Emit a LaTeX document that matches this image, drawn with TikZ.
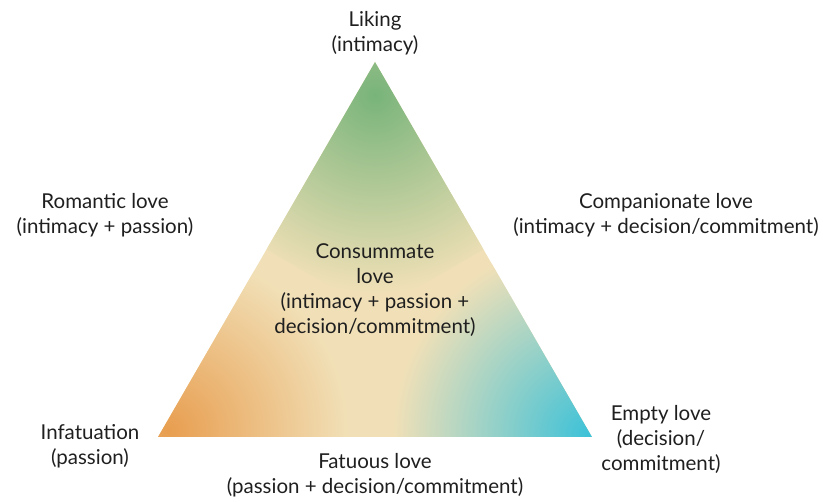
\documentclass[tikz,border=0pt]{standalone}
\usepackage{fontspec}
\setmainfont{Lato}
\usepackage{xcolor}
\usepackage{tikz}
\usetikzlibrary{calc}

\definecolor{likegreen}{RGB}{120,180,122}
\definecolor{passorange}{RGB}{232,158,80}
\definecolor{commitcyan}{RGB}{62,194,216}
\definecolor{corebeige}{RGB}{241,224,183}

\tikzset{lovelabel/.style={align=center, inner sep=0pt, text=black!88,
    font=\fontsize{20.5}{25}\selectfont}}

\begin{document}
\begin{tikzpicture}[x=1pt, y=-1pt]
    \useasboundingbox (0,0) rectangle (823,502);

    % Corners of the triangle
    \coordinate (top) at (375,62);
    \coordinate (left) at (158,437);
    \coordinate (right) at (592,437);
    \coordinate (core) at (barycentric cs:top=1,left=1,right=1);
    \coordinate (midL) at ($(top)!0.5!(left)$);
    \coordinate (midR) at ($(top)!0.5!(right)$);
    \coordinate (midB) at ($(left)!0.5!(right)$);

    % Background of the triangle
    \fill[corebeige] (top) -- (left) -- (right) -- cycle;

    % Three shaded corners
    \begin{scope}
        \clip (top) -- (midL) -- (core) -- (midR) -- cycle;
        \shade[inner color=likegreen, outer color=corebeige] (375,95) circle (198pt);
    \end{scope}
    \begin{scope}
        \clip (left) -- (midB) -- (core) -- (midL) -- cycle;
        \shade[inner color=passorange, outer color=corebeige] (168,430) circle (180pt);
    \end{scope}
    \begin{scope}
        \clip (right) -- (midR) -- (core) -- (midB) -- cycle;
        \shade[inner color=commitcyan, outer color=corebeige] (588,434) circle (195pt);
    \end{scope}

    % Labels
    \node[lovelabel] (liking) at (375,33) {Liking\\(intimacy)};
    \node[lovelabel] (romantic) at (105,215) {Romantic love\\(intimacy + passion)};
    \node[lovelabel] (companionate) at (666,215) {Companionate love\\(intimacy + decision/commitment)};
    \node[lovelabel] (consummate) at (375,290) {Consummate\\love\\(intimacy + passion +\\decision/commitment)};
    \node[lovelabel] (infatuation) at (90,446) {Infatuation\\(passion)};
    \node[lovelabel] (fatuous) at (375,475) {Fatuous love\\(passion + decision/commitment)};
    \node[lovelabel] (empty) at (661,439) {Empty love\\(decision/\\commitment)};
\end{tikzpicture}
\end{document}
